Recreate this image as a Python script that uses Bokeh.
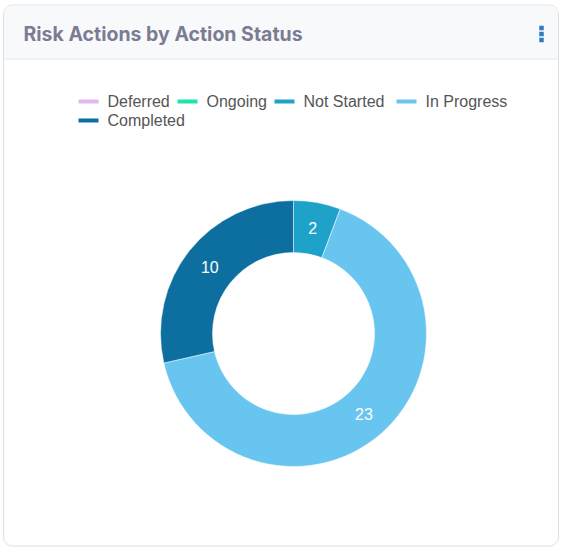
import numpy as np
from bokeh.plotting import figure
from bokeh.models import Range1d, ColumnDataSource
from bokeh.core.properties import value
from bokeh.embed import file_html
from bokeh.resources import INLINE

# ---- data ----
title = "Risk Actions by Action Status"
labels = ["Deferred", "Ongoing", "Not Started", "In Progress", "Completed"]
counts = [0, 0, 2, 23, 10]
colors = ["#e2b8f0", "#1de4ac", "#1fa2c9", "#67c5f0", "#0c6f9f"]

W, H = 562, 553
p = figure(width=W, height=H, output_backend="svg", toolbar_location=None,
           x_range=Range1d(0, W), y_range=Range1d(H, 0), min_border=0,
           outline_line_color=None, background_fill_color="white",
           border_fill_color="white")
p.axis.visible = False
p.grid.visible = False

# ---- card ----
p.rect(x=[280.5], y=[275], width=[555], height=[541], fill_color="white",
       line_color="#dcdfe3", line_width=1, border_radius=9)
p.rect(x=[280.5], y=[31.5], width=[554], height=[53], fill_color="#f8f9fb",
       line_color=None, border_radius=(8, 8, 0, 0))
p.segment(x0=[3.5], y0=[58.5], x1=[557.5], y1=[58.5], line_color="#e2e5e9", line_width=1)
p.text(x=[23], y=[33], text=[title], text_font=value("Inter"), text_font_size="19.5px",
       text_font_style="bold", text_color="#7b7c93", text_baseline="middle", text_align="left")
p.scatter(x=[541, 541, 541], y=[27.5, 33.5, 39.5], size=4.5, marker="square",
          fill_color="#2d7cc3", line_color=None)

# ---- legend ----
leg_x = [78, 177, 274, 396, 78]
leg_y = [101, 101, 101, 101, 120]
p.segment(x0=leg_x, y0=leg_y, x1=[x + 20 for x in leg_x], y1=leg_y,
          line_color=colors, line_width=4)
p.text(x=[x + 29 for x in leg_x], y=leg_y, text=labels,
       text_font=value("Liberation Sans"), text_font_size="16px", text_color="#555555",
       text_baseline="middle", text_align="left")

# ---- donut ----
cx, cy = 293, 333
r_in, r_out = 81, 133
vals = np.array(counts, dtype=float)
total = vals.sum()
cum = np.concatenate([[0], np.cumsum(vals)])
# screen angles (counter-clockwise positive); slices run clockwise from 12 o'clock
start = np.pi / 2 - cum[:-1] / total * 2 * np.pi
end = np.pi / 2 - cum[1:] / total * 2 * np.pi
mask = vals > 0
src = ColumnDataSource(dict(start=start[mask], end=end[mask], color=np.array(colors)[mask],
                            x=[cx] * mask.sum(), y=[cy] * mask.sum()))
p.annular_wedge(x="x", y="y", inner_radius=r_in, outer_radius=r_out,
                start_angle="start", end_angle="end", fill_color="color",
                line_color="white", line_width=0.5, source=src, direction="clock")

mid = (start + end) / 2
r_lab = (r_in + r_out) / 2
lx = cx + r_lab * np.cos(mid[mask])
ly = cy - r_lab * np.sin(mid[mask])
p.text(x=lx, y=ly, text=[str(int(v)) for v in vals[mask]], text_font=value("Liberation Sans"),
       text_font_size="16px", text_color="white", text_align="center", text_baseline="middle")

open("out.html", "w").write(file_html(p, INLINE))
